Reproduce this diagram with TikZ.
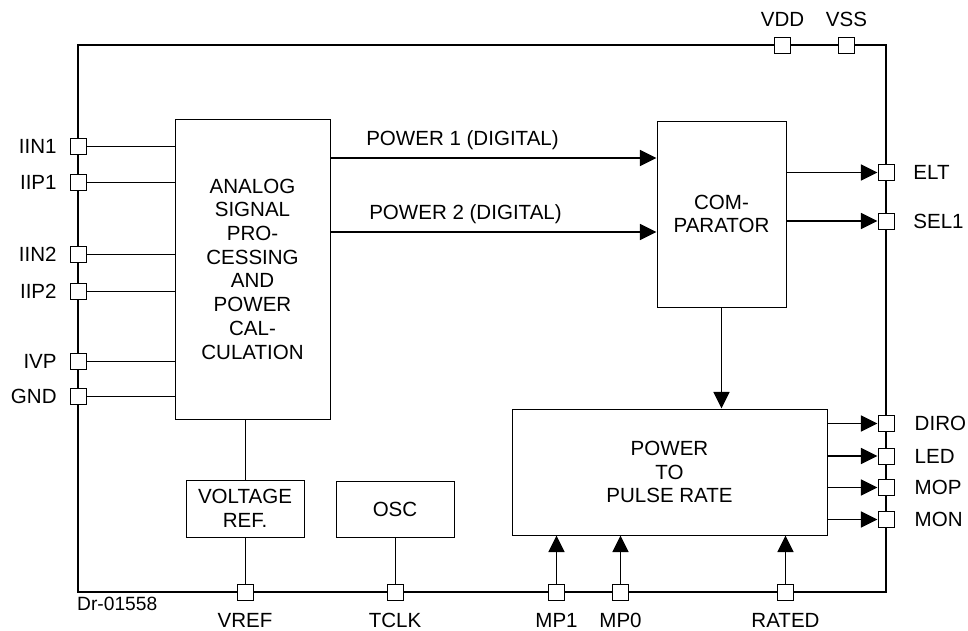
\documentclass[tikz,border=0pt]{standalone}
\usepackage{fontspec}
\setsansfont{Liberation Sans}
\usepackage{tikz}
\usetikzlibrary{arrows.meta, positioning}

\begin{document}
\begin{tikzpicture}[x=0.75pt, y=-0.75pt,
  chip/.style={draw, line width=1.6pt, minimum width=606pt, minimum height=410.25pt, inner sep=0pt},
  block/.style={draw, line width=0.7pt, inner sep=0pt, align=center, font=\fontsize{15.4}{17.8}\sffamily\selectfont},
  pad/.style={draw, fill=white, line width=0.7pt, minimum size=12pt, inner sep=0pt},
  padtxt/.style={inner sep=0pt, font=\fontsize{15.4}{17.8}\sffamily\selectfont},
  wire/.style={line width=0.7pt},
  sig/.style={line width=1.3pt, -{Triangle[length=12.5pt, width=12pt]}}]
\useasboundingbox (0,0) rectangle (968,631);
\node[chip] (chip) at (482,318.5) {};
\node[block, minimum width=116.25pt, minimum height=225pt] (asp) at (252.5,269)
  {ANALOG\\SIGNAL\\PRO-\\CESSING\\AND\\POWER\\CAL-\\CULATION};
\node[block, minimum width=96.75pt, minimum height=139.5pt] (comp) at (721.5,214) {COM-\\PARATOR};
\node[block, minimum width=236.25pt, minimum height=94.5pt] (ppr) at (669.5,472) {POWER\\TO\\PULSE RATE};
\node[block, minimum width=88.5pt, minimum height=42.75pt] (vrefbox) at (245,508.5) {VOLTAGE\\REF.};
\node[block, minimum width=88.5pt, minimum height=42pt] (osc) at (395,509) {OSC};
\node[padtxt, anchor=west] (pwr1txt) at (366,140.5) {POWER 1 (DIGITAL)};
\node[padtxt, anchor=west] (pwr2txt) at (369,214) {POWER 2 (DIGITAL)};
\node[pad] (iin1) at (78,146) {};
\node[pad] (iip1) at (78,182) {};
\node[pad] (iin2) at (78,254) {};
\node[pad] (iip2) at (78,291) {};
\node[pad] (ivp) at (78,361.5) {};
\node[pad] (gnd) at (78,396.5) {};
\node[pad] (vdd) at (782.5,45) {};
\node[pad] (vss) at (846.5,45) {};
\node[pad] (elt) at (886,172.5) {};
\node[pad] (sel1) at (886,221) {};
\node[pad] (diro) at (886,423.5) {};
\node[pad] (led) at (886,456) {};
\node[pad] (mop) at (886,487.5) {};
\node[pad] (mon) at (886,519.5) {};
\node[pad] (vrefpin) at (245,592) {};
\node[pad] (tclk) at (395,592) {};
\node[pad] (mp1) at (556.5,592) {};
\node[pad] (mp0) at (620.5,592) {};
\node[pad] (rated) at (785.5,592) {};
\node[padtxt, left=9.5pt of iin1] (iin1txt) {IIN1};
\node[padtxt, left=9.5pt of iip1] (iip1txt) {IIP1};
\node[padtxt, left=9.5pt of iin2] (iin2txt) {IIN2};
\node[padtxt, left=9.5pt of iip2] (iip2txt) {IIP2};
\node[padtxt, left=9.5pt of ivp] (ivptxt) {IVP};
\node[padtxt, left=9.5pt of gnd] (gndtxt) {GND};
\node[padtxt, above=7.5pt of vdd] (vddtxt) {VDD};
\node[padtxt, above=7.5pt of vss] (vsstxt) {VSS};
\node[padtxt, right=14pt of elt] (elttxt) {ELT};
\node[padtxt, right=14pt of sel1] (sel1txt) {SEL1};
\node[padtxt, right=15pt of diro] (dirotxt) {DIRO};
\node[padtxt, right=15pt of led] (ledtxt) {LED};
\node[padtxt, right=15pt of mop] (moptxt) {MOP};
\node[padtxt, right=15pt of mon] (montxt) {MON};
\node[padtxt, below=9.5pt of vrefpin] (vreftxt) {VREF};
\node[padtxt, below=9.5pt of tclk] (tclktxt) {TCLK};
\node[padtxt, below=9.5pt of mp1] (mp1txt) {MP1};
\node[padtxt, below=9.5pt of mp0] (mp0txt) {MP0};
\node[padtxt, below=9.5pt of rated] (ratedtxt) {RATED};
\node[padtxt, font=\fontsize{14.4}{16}\sffamily\selectfont, anchor=north west] (drw)
  at ([yshift=-3pt]chip.south west) {Dr-01558};
\foreach \p in {iin1,iip1,iin2,iip2,ivp,gnd}
  \draw[wire] (\p.east) -- (\p -| asp.west);
\draw[sig] (asp.east |- 0,158) -- (comp.west |- 0,158);
\draw[sig] (asp.east |- 0,232) -- (comp.west |- 0,232);
\foreach \p in {elt,sel1}
  \draw[sig] (comp.east |- \p) -- (\p.west);
\draw[sig] (comp.south) -- (comp.south |- ppr.north);
\foreach \p in {diro,led,mop,mon}
  \draw[sig] (ppr.east |- \p) -- (\p.west);
\foreach \p in {mp1,mp0,rated}
  \draw[sig] (\p.north) -- (\p |- ppr.south);
\draw[wire] (vrefbox.north) -- (vrefbox.north |- asp.south);
\draw[wire] (vrefbox.south) -- (vrefpin.north);
\draw[wire] (osc.south) -- (tclk.north);
\end{tikzpicture}
\end{document}
